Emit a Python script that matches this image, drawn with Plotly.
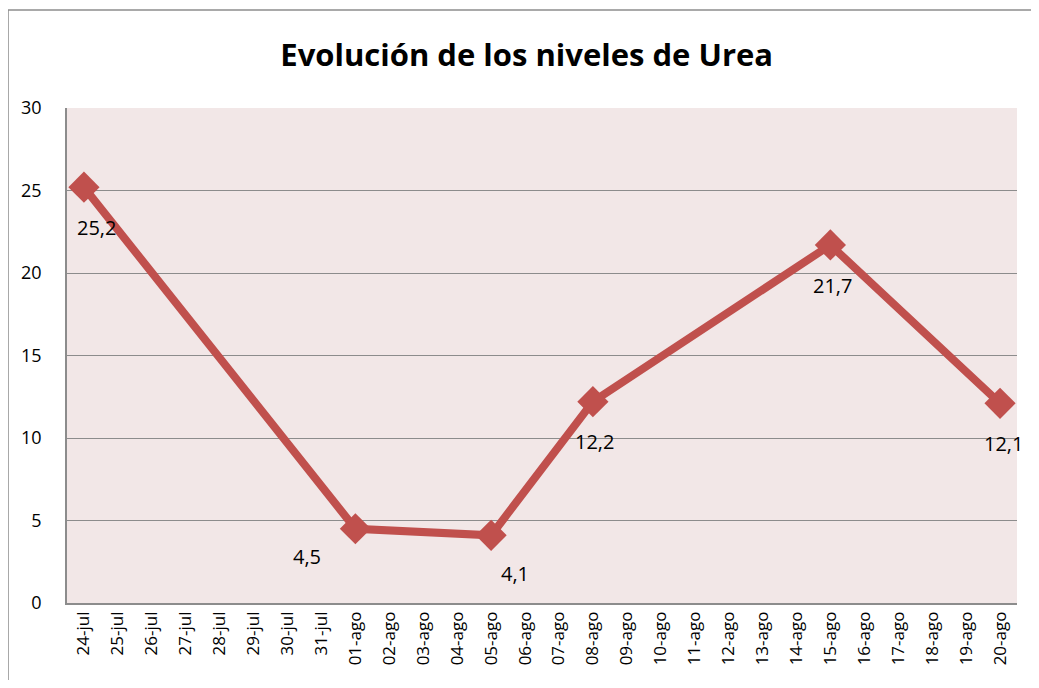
import plotly.graph_objects as go

categories = ["24-jul", "25-jul", "26-jul", "27-jul", "28-jul", "29-jul", "30-jul", "31-jul",
              "01-ago", "02-ago", "03-ago", "04-ago", "05-ago", "06-ago", "07-ago", "08-ago",
              "09-ago", "10-ago", "11-ago", "12-ago", "13-ago", "14-ago", "15-ago", "16-ago",
              "17-ago", "18-ago", "19-ago", "20-ago"]
point_dates = ["24-jul", "01-ago", "05-ago", "08-ago", "15-ago", "20-ago"]
urea_values = [25.2, 4.5, 4.1, 12.2, 21.7, 12.1]
y_ticks = [0, 5, 10, 15, 20, 25, 30]

label_offsets = [(13, -40), (-48, -28), (24, -38), (2, -40), (2, -41), (3, -40)]

LINE = "#C0504D"
FONT = "Open Sans"

fig = go.Figure()
fig.add_trace(go.Scatter(
    x=point_dates, y=urea_values, mode="lines+markers",
    line=dict(color=LINE, width=8),
    marker=dict(symbol="diamond", size=24, color=LINE),
    hoverinfo="skip", showlegend=False,
))

for d, v, (dx, dy) in zip(point_dates, urea_values, label_offsets):
    fig.add_annotation(x=d, y=v, text=f"{v:.1f}".replace(".", ","), showarrow=False,
                       xshift=dx, yshift=dy, font=dict(family=FONT, size=20, color="black"))

# outer chart border (top and left edges visible in the frame)
fig.add_shape(type="line", xref="paper", yref="paper", x0=-0.0621, x1=1.2, y0=1.198, y1=1.198,
              line=dict(color="#8C8C8C", width=1.5), layer="below")
fig.add_shape(type="line", xref="paper", yref="paper", x0=-0.0621, x1=-0.0621, y0=-0.5, y1=1.198,
              line=dict(color="#8C8C8C", width=1.5), layer="below")

fig.update_layout(
    width=1023, height=672,
    margin=dict(l=59, r=14, t=100, b=77),
    paper_bgcolor="white", plot_bgcolor="#F2E7E7",
    title=dict(text="<b>Evolución de los niveles de Urea</b>", x=0.507, xanchor="center",
               y=1 - 47 / 672, yanchor="middle",
               font=dict(family=FONT, size=31, color="black")),
    xaxis=dict(type="category", categoryorder="array", categoryarray=categories,
               tickvals=categories, ticktext=categories, range=[-0.5, len(categories) - 0.5],
               tickangle=-90, showgrid=False, showline=True, linecolor="#8C8C8C", linewidth=1.5,
               ticks="", tickfont=dict(family=FONT, size=17, color="black")),
    yaxis=dict(range=[0, 30], tickvals=y_ticks, showgrid=True, gridcolor="#8C8C8C", gridwidth=1,
               showline=True, linecolor="#8C8C8C", linewidth=1.5, zeroline=False, ticks="",
               ticklabelstandoff=20,
               tickfont=dict(family=FONT, size=18, color="black")),
)

fig.write_html("out.html")
